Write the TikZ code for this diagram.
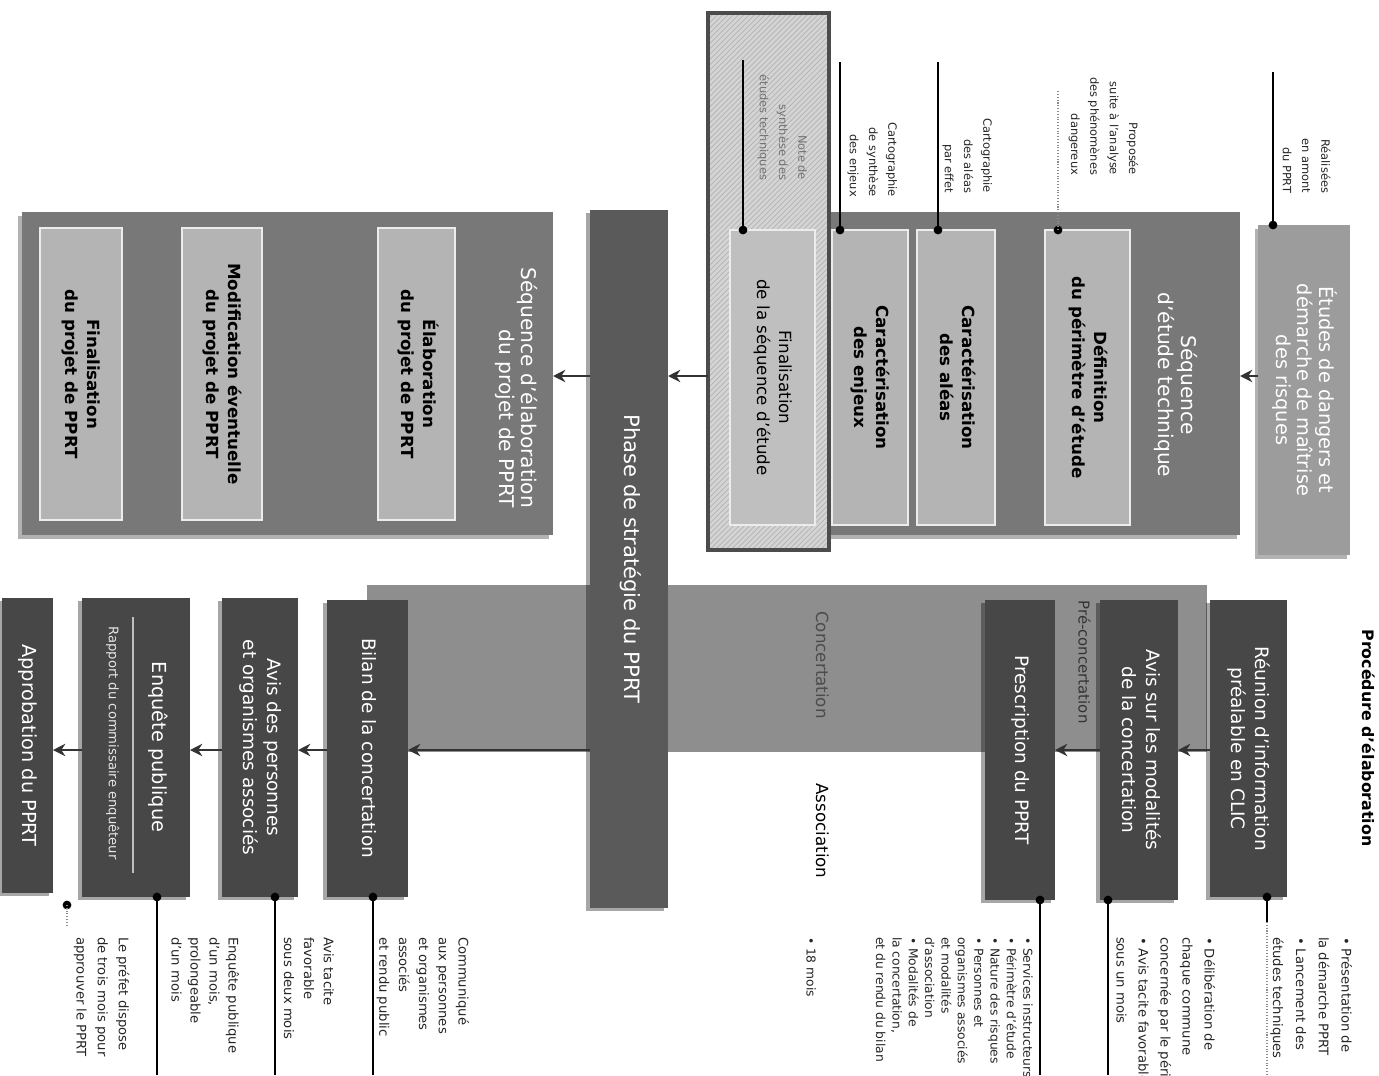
\documentclass[tikz,border=0pt]{standalone}
\usepackage{fontspec}
\setmainfont{DejaVu Sans}
\usetikzlibrary{patterns,fit,shadows,arrows.meta}
\newcommand\rtx[2][c]{\rotatebox{-90}{\begin{tabular}{@{}#1@{}}#2\end{tabular}}}
\definecolor{cDark}{HTML}{474747}
\definecolor{cStrat}{HTML}{5A5A5A}
\definecolor{cGrp}{HTML}{787878}
\definecolor{cLight}{HTML}{B4B4B4}
\definecolor{cEtu}{HTML}{9C9C9C}
\definecolor{cBand}{HTML}{8E8E8E}
\definecolor{cHatch}{HTML}{D4D4D4}
\begin{document}
\begin{tikzpicture}[x=0.02cm,y=-0.02cm,
  every node/.style={inner sep=0pt, outer sep=0pt},
  darkbox/.style={fill=cDark, text=white, font=\fontsize{10.5}{13.5}\selectfont,
    drop shadow={shadow xshift=-2.5pt, shadow yshift=-1.5pt, opacity=.35, fill=black}},
  lightbox/.style={fill=cLight, draw=white!75!cLight, line width=0.8pt, text=black,
    font=\bfseries\fontsize{9.5}{12.5}\selectfont},
  grpbox/.style={fill=cGrp, drop shadow={shadow xshift=-2pt, shadow yshift=-2pt, opacity=.3, fill=black}},
  notetop/.style={anchor=south, text=black!85, font=\fontsize{6.5}{11}\selectfont},
  notebot/.style={anchor=north, text=black!85, font=\fontsize{7.5}{12}\selectfont},
  arr/.style={-{Stealth[length=7pt,width=7pt]}, line width=1.6pt, draw=black!80},
  pin/.style={line width=0.7pt, draw=black},
  faint/.style={line width=0.6pt, draw=black!45, densely dotted},
  dot/.style={circle, fill=black, minimum size=5pt}
]
\useasboundingbox (0,0) rectangle (1379,1075);
\fill[white] (0,0) rectangle (1379,1075);

% ---------- title
\node[font=\bfseries\fontsize{9}{11}\selectfont] (title) at (1366,738) {\rtx{Procédure d'élaboration}};

% ---------- lower band (concertation)
\node[fill=cBand, fit={(367,585) (1207,752)}] (band) {};
\node[text=black!70, font=\fontsize{9.5}{11}\selectfont] (lconc) at (820,665) {\rtx{Concertation}};
\node[text=black!80, font=\fontsize{8.5}{10}\selectfont] (lpre) at (1082,662) {\rtx{Pré-concertation}};
\node[text=black, font=\fontsize{9.5}{11}\selectfont] (lass) at (820,831) {\rtx{Association}};

% ---------- strategy bar
\node[fill=cStrat, text=white, font=\fontsize{12}{14}\selectfont,
  drop shadow={shadow xshift=-2.5pt, shadow yshift=-1.5pt, opacity=.35, fill=black},
  fit={(590,210) (668,908)}] (strat) {\rtx{Phase de stratégie du PPRT}};

% ---------- elaboration group
\node[grpbox, fit={(22,212) (553,535)}] (gelab) {};
\node[anchor=south, text=white, font=\fontsize{11.5}{12.5}\selectfont] (lgelab) at (515,508)
  {\rtx[r]{Séquence d'élaboration\\du projet de PPRT}};
\node[lightbox, fit={(378,228) (455,520)}] (elab) {\rtx{Élaboration\\du projet de PPRT}};
\node[lightbox, fit={(182,228) (262,520)}] (modif) {\rtx{Modification éventuelle\\du projet de PPRT}};
\node[lightbox, fit={(40,228) (122,520)}] (finproj) {\rtx{Finalisation\\du projet de PPRT}};

% ---------- etude group
\node[grpbox, fit={(713,212) (1240,535)}] (getude) {};
\node[text=white, font=\fontsize{11.5}{13}\selectfont] (lgetude) at (1175,385)
  {\rtx{Séquence\\d'étude technique}};
\node[lightbox, fit={(1045,230) (1130,525)}] (defin) {\rtx{Définition\\du périmètre d'étude}};
\node[lightbox, fit={(917,230) (995,525)}] (aleas) {\rtx{Caractérisation\\des aléas}};
\node[lightbox, fit={(832,230) (908,525)}] (enjeux) {\rtx{Caractérisation\\des enjeux}};

% hatched highlight
\node[fill=cHatch, fit={(708,13) (829,550)}] (hatch) {};
\fill[pattern=north east lines, pattern color=black!30] (hatch.south west) rectangle (hatch.north east);
\node[lightbox, fill=cLight!85!white, font=\fontsize{9.5}{12.5}\selectfont, fit={(730,230) (815,525)}] (finseq)
  {\rtx{Finalisation\\de la séquence d'étude}};
\draw[line width=2.6pt, black!70] (hatch.south west) rectangle (hatch.north east);

% ---------- etudes de dangers
\node[fill=cEtu, text=white, font=\fontsize{11}{12}\selectfont,
  drop shadow={shadow xshift=-2pt, shadow yshift=-2pt, opacity=.3, fill=black},
  fit={(1258,225) (1350,555)}] (etudes) {\rtx{Études de dangers et\\démarche de maîtrise\\des risques}};

% ---------- lower dark boxes
\node[darkbox, fit={(1210,600) (1287,897)}] (reunion) {\rtx{Réunion d'information\\préalable en CLIC}};
\node[darkbox, fit={(1100,600) (1178,900)}] (avismod) {\rtx{Avis sur les modalités\\de la concertation}};
\node[darkbox, fit={(985,600) (1055,900)}] (prescr) {\rtx{Prescription du PPRT}};
\node[darkbox, fit={(327,600) (408,897)}] (bilan) {\rtx{Bilan de la concertation}};
\node[darkbox, fit={(222,598) (298,897)}] (avispers) {\rtx{Avis des personnes\\et organismes associés}};
\node[darkbox, fit={(82,598) (190,897)}] (enquete) {};
\node[text=white, font=\fontsize{11}{12}\selectfont] (lenq) at (157,747) {\rtx{Enquête publique}};
\coordinate (sepA) at (133,617);
\coordinate (sepB) at (133,873);
\draw[white!75!black, line width=0.8pt] (sepA) -- (sepB);
\node[text=white!90!black, font=\fontsize{7.5}{9}\selectfont] (lrap) at (112,743) {\rtx{Rapport du commissaire enquêteur}};
\node[darkbox, font=\fontsize{11}{13}\selectfont, fit={(2,598) (53,893)}] (approb) {\rtx{Approbation du PPRT}};

% ---------- arrows
\coordinate (yt) at (0,376);
\coordinate (yb) at (0,750);
\draw[arr] (etudes.west |- yt) -- (getude.east |- yt);
\draw[arr] (hatch.west |- yt) -- (strat.east |- yt);
\draw[arr] (strat.west |- yt) -- (gelab.east |- yt);
\draw[arr] (reunion.west |- yb) -- (avismod.east |- yb);
\draw[arr] (avismod.west |- yb) -- (prescr.east |- yb);
\draw[arr] (strat.west |- yb) -- (bilan.east |- yb);
\draw[arr] (bilan.west |- yb) -- (avispers.east |- yb);
\draw[arr] (avispers.west |- yb) -- (enquete.east |- yb);
\draw[arr] (enquete.west |- yb) -- (approb.east |- yb);

% ---------- top pins and notes
\node[dot] (p1) at (1273,225) {};
\coordinate (q1) at (1273,72);
\draw[pin] (p1.center) -- (q1);
\node[notetop] (t1) at (1306,193) {\rtx[r]{Réalisées\\en amont\\du PPRT}};

\node[dot] (p2) at (1058,230) {};
\coordinate (q2) at (1058,90);
\draw[faint] (p2.center) -- (q2);
\node[notetop] (t2) at (1104,175) {\rtx[r]{Proposée\\suite à l'analyse\\des phénomènes\\dangereux}};

\node[dot] (p3) at (938,230) {};
\coordinate (q3) at (938,62);
\draw[pin] (p3.center) -- (q3);
\node[notetop] (t3) at (968,193) {\rtx[r]{Cartographie\\des aléas\\par effet}};

\node[dot] (p4) at (840,230) {};
\coordinate (q4) at (840,62);
\draw[pin] (p4.center) -- (q4);
\node[notetop] (t4) at (873,197) {\rtx[r]{Cartographie\\de synthèse\\des enjeux}};

\node[dot] (p5) at (743,230) {};
\coordinate (q5) at (743,60);
\draw[pin] (p5.center) -- (q5);
\node[notetop, text=black!55] (t5) at (783,180) {\rtx[r]{Note de\\synthèse des\\études techniques}};

% ---------- bottom pins and notes
\node[dot] (b1) at (1267,897) {};
\coordinate (c1a) at (1267,922);
\coordinate (c1) at (1267,1075);
\draw[pin] (b1.center) -- (c1a);
\draw[faint] (c1a) -- (c1);
\node[notebot, font=\fontsize{7.5}{13}\selectfont] (n1) at (1312,937)
  {\rtx[l]{• Présentation de\\la démarche PPRT\\• Lancement des\\études techniques}};

\node[dot] (b2) at (1108,900) {};
\coordinate (c2) at (1108,1075);
\draw[pin] (b2.center) -- (c2);
\node[notebot, font=\fontsize{7.5}{12.5}\selectfont] (n2) at (1165,937)
  {\rtx[l]{• Délibération de\\chaque commune\\concernée par le périmètre\\• Avis tacite favorable\\sous un mois}};

\node[dot] (b3) at (1040,900) {};
\coordinate (c3) at (1040,1075);
\draw[pin] (b3.center) -- (c3);
\node[notebot, font=\fontsize{7}{9.3}\selectfont] (n3) at (953,937)
  {\rtx[l]{• Services instructeurs\\• Périmètre d'étude\\• Nature des risques\\• Personnes et\\organismes associés\\et modalités\\d'association\\• Modalités de\\la concertation,\\et du rendu du bilan}};
\node[notebot, font=\fontsize{7}{9.3}\selectfont] (n3b) at (810,937) {\rtx[l]{• 18 mois}};

\node[dot] (b4) at (373,897) {};
\coordinate (c4) at (373,1075);
\draw[pin] (b4.center) -- (c4);
\node[notebot, font=\fontsize{7.5}{11.3}\selectfont] (n4) at (423,937)
  {\rtx[l]{Communiqué\\aux personnes\\et organismes\\associés\\et rendu public}};

\node[dot] (b5) at (275,897) {};
\coordinate (c5) at (275,1075);
\draw[pin] (b5.center) -- (c5);
\node[notebot, font=\fontsize{7.5}{11.3}\selectfont] (n5) at (308,937)
  {\rtx[l]{Avis tacite\\favorable\\sous deux mois}};

\node[dot] (b6) at (157,897) {};
\coordinate (c6) at (157,1075);
\draw[pin] (b6.center) -- (c6);
\node[notebot, font=\fontsize{7.5}{10.8}\selectfont] (n6) at (204,937)
  {\rtx[l]{Enquête publique\\d'un mois,\\prolongeable\\d'un mois}};

\node[dot] (b7) at (67,905) {};
\coordinate (c7) at (67,925);
\draw[faint] (b7.center) -- (c7);
\node[notebot, font=\fontsize{7.5}{12}\selectfont] (n7) at (102,937)
  {\rtx[l]{Le préfet dispose\\de trois mois pour\\approuver le PPRT}};
\end{tikzpicture}
\end{document}
